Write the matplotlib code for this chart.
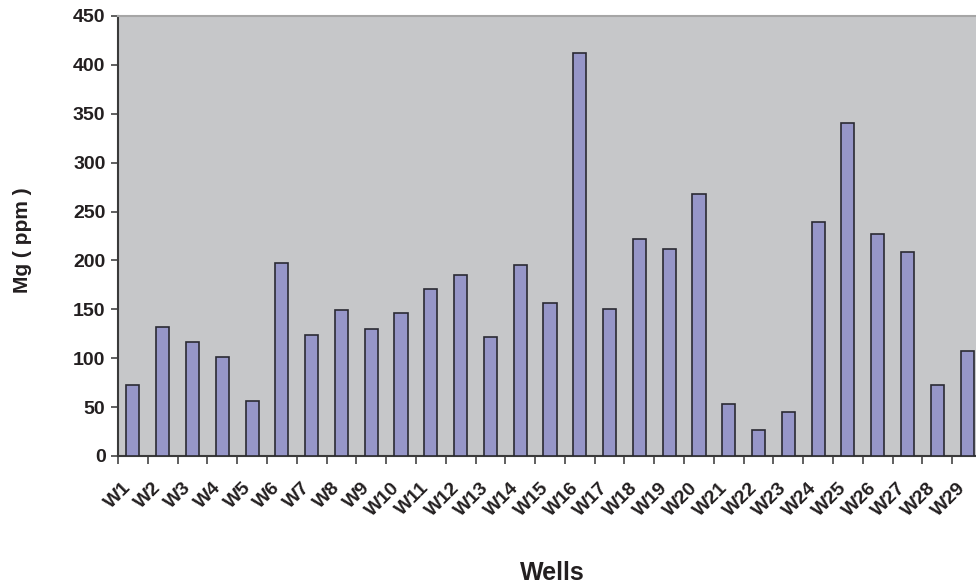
import matplotlib
matplotlib.use("Agg")
import matplotlib.pyplot as plt
import matplotlib.transforms as mtransforms
import numpy as np

wells = ["W1", "W2", "W3", "W4", "W5", "W6", "W7", "W8", "W9", "W10",
         "W11", "W12", "W13", "W14", "W15", "W16", "W17", "W18", "W19", "W20",
         "W21", "W22", "W23", "W24", "W25", "W26", "W27", "W28", "W29"]
mg_ppm = [73, 132, 117, 101, 56, 197, 124, 149, 130, 146,
          171, 185, 122, 195, 156, 412, 150, 222, 212, 268,
          53, 27, 45, 239, 341, 227, 209, 73, 107]
y_ticks = [0, 50, 100, 150, 200, 250, 300, 350, 400, 450]

plt.rcParams["font.family"] = ["Liberation Sans", "DejaVu Sans"]
plt.rcParams["font.weight"] = "bold"
TEXT = "#231f20"

fig = plt.figure(figsize=(9.76, 5.87), dpi=100)
ax = fig.add_axes([118 / 976, 131 / 587, 864 / 976, 440 / 587])
ax.set_facecolor("#c6c7c9")

x = np.arange(len(wells))
ax.bar(x, mg_ppm, width=0.44, color="#9696c8", edgecolor="#2a2a33",
       linewidth=1.2, zorder=3)

ax.set_xlim(-0.5, len(wells) - 0.5)
ax.set_ylim(0, 450)
ax.set_yticks(y_ticks)
ax.set_yticklabels([str(v) for v in y_ticks], fontsize=14, fontweight="bold",
                   color=TEXT)

# category labels at centres, tick marks at category boundaries
ax.set_xticks(x)
ax.set_xticklabels(wells, rotation=45, ha="right", rotation_mode="anchor",
                   fontsize=14, fontweight="bold", color=TEXT)
ax.tick_params(axis="x", which="major", length=0, pad=17)
shift = mtransforms.ScaledTranslation(-10 / 100, 0, fig.dpi_scale_trans)
for lbl in ax.get_xticklabels():
    lbl.set_transform(lbl.get_transform() + shift)
ax.set_xticks(np.arange(len(wells) + 1) - 0.5, minor=True)
ax.tick_params(axis="x", which="minor", length=6, width=1.2, color="#444444",
               direction="out")
ax.tick_params(axis="y", length=5, width=1.2, color="#444444", pad=4)

for side in ("left", "bottom"):
    ax.spines[side].set_color("#3a3a3a")
    ax.spines[side].set_linewidth(1.5)
ax.spines["top"].set_color("#a6a6a6")
ax.spines["top"].set_linewidth(1.5)
ax.spines["right"].set_visible(False)

ax.set_ylabel("Mg ( ppm )", fontsize=15, fontweight="bold", color=TEXT)
ax.yaxis.set_label_coords(-0.110, 0.49)
ax.yaxis.label.set_va("center")
ax.set_xlabel("Wells", fontsize=18, fontweight="bold", color=TEXT)
ax.xaxis.set_label_coords(0.503, -0.266)
ax.xaxis.label.set_va("center")

fig.savefig("out.png", dpi=100)
